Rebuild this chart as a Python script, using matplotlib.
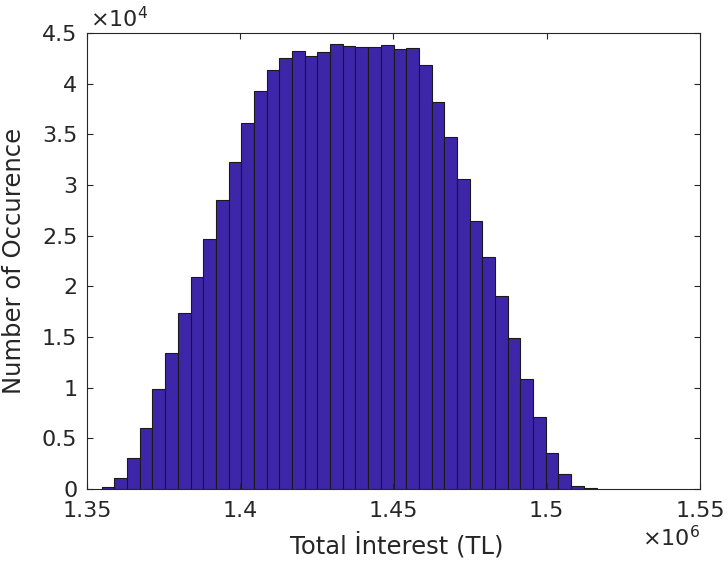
import numpy as np
import matplotlib
matplotlib.use('Agg')
import matplotlib.pyplot as plt
from matplotlib.ticker import FuncFormatter, MultipleLocator

# Histogram of total interest
first_edge = 1.3548e6
bin_width = 4140
counts = [200, 1050, 3100, 6000, 9900, 13400, 17400, 20900, 24650, 28550,
          32300, 36100, 39300, 41300, 42500, 43200, 42700, 43100, 43900, 43750,
          43600, 43600, 43800, 43400, 43500, 41800, 38200, 34750, 30600, 26400,
          22900, 19000, 14900, 10900, 7100, 3600, 1450, 300, 50]

x_ticks = [1.35e6, 1.40e6, 1.45e6, 1.50e6, 1.55e6]
x_tick_labels = ['1.35', '1.4', '1.45', '1.5', '1.55']

bar_color = '#3E26A8'
text_color = '#262626'

left_edges = first_edge + bin_width * np.arange(len(counts))

fig = plt.figure(figsize=(7.28, 5.62), dpi=100)
ax = fig.add_axes([0.1195, 0.1299, 0.842, 0.8114])

ax.bar(left_edges, counts, width=bin_width, align='edge',
       color=bar_color, edgecolor='#1a1a1a', linewidth=0.8)

ax.set_xlim(1.35e6, 1.55e6)
ax.set_ylim(0, 4.5e4)
ax.set_xticks(x_ticks)
ax.set_xticklabels(x_tick_labels)
ax.yaxis.set_major_locator(MultipleLocator(5000))
ax.yaxis.set_major_formatter(FuncFormatter(lambda v, p: f'{v / 1e4:g}'))

for s in ax.spines.values():
    s.set_color(text_color)
    s.set_linewidth(0.8)
ax.tick_params(direction='in', top=True, right=True, length=4, width=0.8,
               colors=text_color, labelsize=16, pad=7)
ax.tick_params(axis='x', pad=9)

ax.set_xlabel('Total İnterest (TL)', fontsize=17.5, color=text_color)
ax.set_ylabel('Number of Occurence', fontsize=17.5, color=text_color)
ax.xaxis.set_label_coords(0.505, -0.095)
ax.yaxis.set_label_coords(-0.10, 0.5)

ax.text(0.005, 1.005, r'$\times10^{4}$', transform=ax.transAxes,
        ha='left', va='bottom', fontsize=16, color=text_color)
ax.text(1.0, -0.078, r'$\times10^{6}$', transform=ax.transAxes,
        ha='right', va='top', fontsize=16, color=text_color)

plt.savefig('out.png', dpi=100)
